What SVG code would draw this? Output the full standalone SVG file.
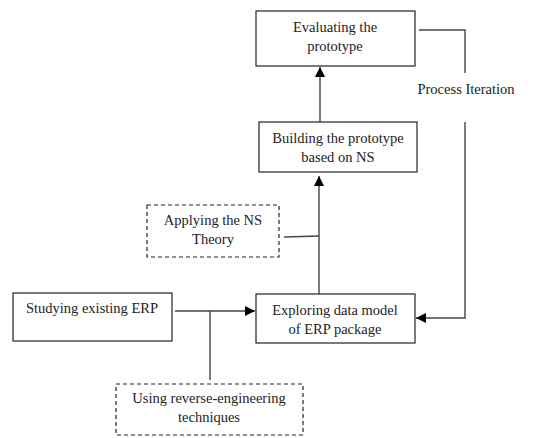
<svg xmlns="http://www.w3.org/2000/svg" width="553" height="438" viewBox="0 0 553 438">
<style>
.box{fill:#fff;stroke:#222;stroke-width:1.2}
.dash{fill:#fff;stroke:#222;stroke-width:1.2;stroke-dasharray:4 3}
.ln{fill:none;stroke:#444;stroke-width:1.4}
text{font-family:"Liberation Serif","Times New Roman",serif;font-size:14.5px;fill:#222;text-anchor:middle}
</style>
<defs>
<marker id="ah" markerWidth="10" markerHeight="10" refX="10" refY="5" orient="auto" markerUnits="userSpaceOnUse">
<path d="M0,0 L10,5 L0,10 Z" fill="#000"/>
</marker>
</defs>
<rect width="553" height="438" fill="#fff"/>
<g id="connectors">
<line class="ln" x1="320" y1="122" x2="320" y2="67" marker-end="url(#ah)"/>
<line class="ln" x1="319" y1="294" x2="319" y2="176" marker-end="url(#ah)"/>
<line class="ln" x1="284" y1="237" x2="319" y2="236"/>
<line class="ln" x1="175" y1="311" x2="255" y2="311" marker-end="url(#ah)"/>
<line class="ln" x1="210" y1="311" x2="210" y2="380"/>
<polyline class="ln" points="419,30 465,30 465,73"/>
<polyline class="ln" points="465,122 465,318 416,318" marker-end="url(#ah)"/>
<text x="466" y="94">Process Iteration</text>
</g>
<g id="evaluating">
<rect class="box" x="256" y="11" width="159" height="55"/>
<text x="335" y="32">Evaluating the</text>
<text x="335" y="51">prototype</text>
</g>
<g id="building">
<rect class="box" x="259" y="122" width="158" height="50"/>
<text x="338" y="143">Building the prototype</text>
<text x="338" y="162">based on NS</text>
</g>
<g id="applying">
<rect class="dash" x="147" y="205" width="132" height="52"/>
<text x="213" y="225">Applying the NS</text>
<text x="213" y="244">Theory</text>
</g>
<g id="studying">
<rect class="box" x="13" y="293" width="159" height="48"/>
<text x="92" y="313">Studying existing ERP</text>
</g>
<g id="exploring">
<rect class="box" x="256" y="294" width="159" height="49"/>
<text x="335" y="315">Exploring data model</text>
<text x="335" y="334">of ERP package</text>
</g>
<g id="using">
<rect class="dash" x="116" y="384" width="187" height="51"/>
<text x="209" y="403">Using reverse-engineering</text>
<text x="209" y="422">techniques</text>
</g>
</svg>
